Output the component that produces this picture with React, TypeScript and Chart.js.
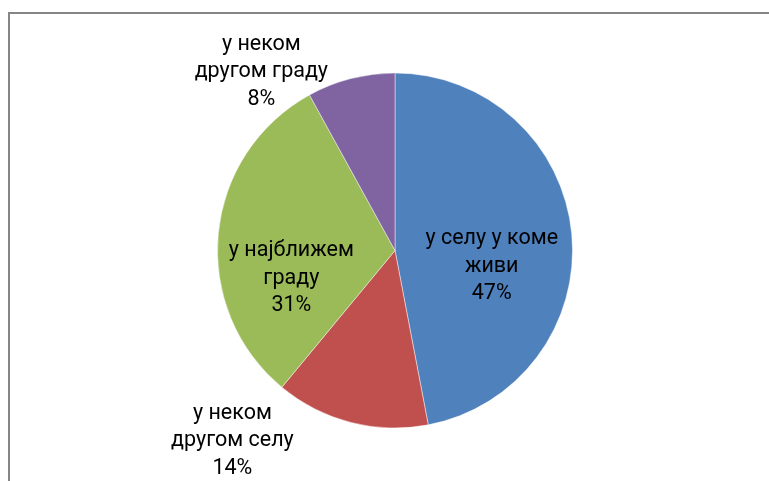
import React, { useEffect, useRef } from "react";
import { Chart, registerables } from "chart.js";

Chart.register(...registerables);

const categories = ["у селу у коме живи", "у неком другом селу", "у најближем граду", "у неком другом граду"];
const labelLines = [
  ["у селу у коме", "живи"],
  ["у неком", "другом селу"],
  ["у најближем", "граду"],
  ["у неком", "другом граду"],
];
const values = [47, 14, 31, 8];
const colors = ["#4F81BD", "#C0504D", "#9BBB59", "#8064A2"];

// label anchor offsets, as fractions of the pie radius from the pie centre
const labelOffsets = [
  [0.545, 0.09],
  [-0.916, 1.072],
  [-0.584, 0.157],
  [-0.753, -1.006],
];

const FONT_SIZE = 21.5;
const LINE_H = 27.5;

const framePlugin = {
  id: "frame",
  beforeDraw(chart: any) {
    const ctx = chart.ctx;
    ctx.save();
    ctx.fillStyle = "#868686";
    ctx.fillRect(8, 12, 2, chart.height);
    ctx.fillRect(8, 12, chart.width, 2);
    ctx.restore();
  },
};

const labelPlugin = {
  id: "pieLabels",
  afterDraw(chart: any) {
    const ctx = chart.ctx;
    const meta = chart.getDatasetMeta(0);
    const total = values.reduce((a, b) => a + b, 0);
    ctx.save();
    ctx.fillStyle = "#000";
    ctx.font = `${FONT_SIZE}px Roboto`;
    ctx.textAlign = "center";
    ctx.textBaseline = "middle";
    meta.data.forEach((arc: any, i: number) => {
      const r = arc.outerRadius;
      const cx = arc.x + labelOffsets[i][0] * r;
      const cy = arc.y + labelOffsets[i][1] * r;
      const lines = [...labelLines[i], `${Math.round((values[i] / total) * 100)}%`];
      const startY = cy - ((lines.length - 1) * LINE_H) / 2;
      lines.forEach((ln, k) => ctx.fillText(ln, cx, startY + k * LINE_H));
    });
    ctx.restore();
  },
};

export default function App() {
  const ref = useRef<HTMLCanvasElement | null>(null);
  useEffect(() => {
    if (!ref.current) return;
    const chart = new Chart(ref.current, {
      type: "pie",
      data: {
        labels: categories,
        datasets: [
          {
            data: values,
            backgroundColor: colors,
            borderColor: "rgba(255,255,255,0.45)",
            borderWidth: 1,
          },
        ],
      },
      options: {
        responsive: false,
        animation: false,
        devicePixelRatio: 1,
        layout: { padding: { left: 217, right: 196, top: 72.5, bottom: 52.5 } },
        plugins: { legend: { display: false }, tooltip: { enabled: false } },
      },
      plugins: [framePlugin, labelPlugin],
    });
    return () => chart.destroy();
  }, []);
  return (
    <div style={{ position: "absolute", left: 0, top: 0, width: 769, height: 481, background: "#fff" }}>
      <canvas ref={ref} width={769} height={481} />
    </div>
  );
}
